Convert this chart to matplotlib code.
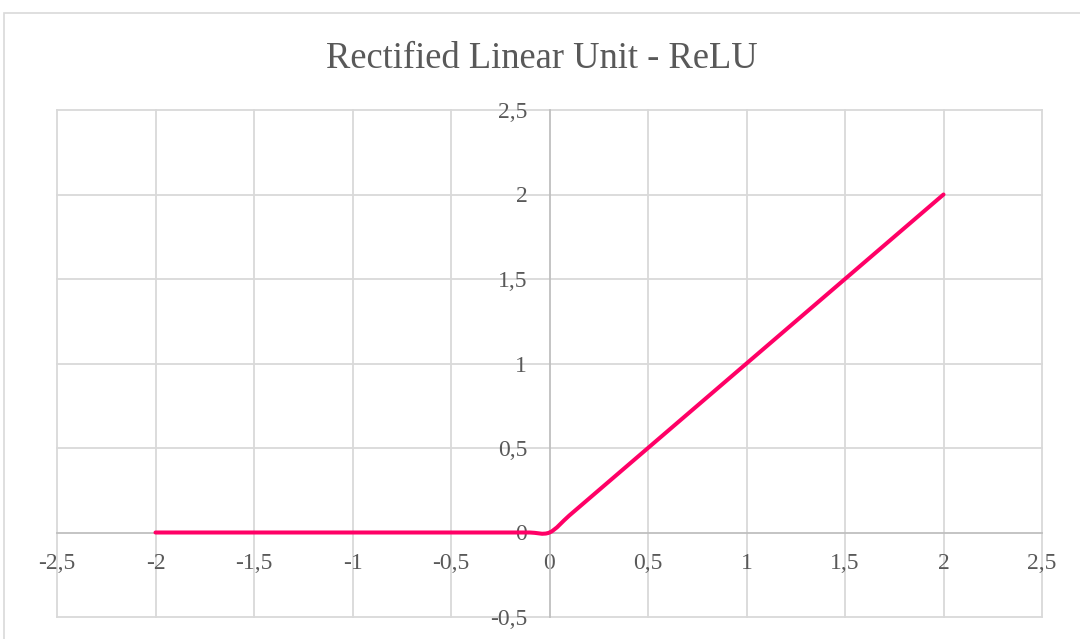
import matplotlib.pyplot as plt
from matplotlib.path import Path
from matplotlib.patches import PathPatch, Rectangle

# Values (Excel scatter with smoothed line).
relu_x = [-2.0, -1.9, -1.8, -1.7, -1.6, -1.5, -1.4, -1.3, -1.2, -1.1,
          -1.0, -0.9, -0.8, -0.7, -0.6, -0.5, -0.4, -0.3, -0.2, -0.1,
          0.0, 0.1, 0.2, 0.3, 0.4, 0.5, 0.6, 0.7, 0.8, 0.9,
          1.0, 1.1, 1.2, 1.3, 1.4, 1.5, 1.6, 1.7, 1.8, 1.9, 2.0]
relu_y = [0.0, 0.0, 0.0, 0.0, 0.0, 0.0, 0.0, 0.0, 0.0, 0.0,
          0.0, 0.0, 0.0, 0.0, 0.0, 0.0, 0.0, 0.0, 0.0, 0.0,
          0.0, 0.1, 0.2, 0.3, 0.4, 0.5, 0.6, 0.7, 0.8, 0.9,
          1.0, 1.1, 1.2, 1.3, 1.4, 1.5, 1.6, 1.7, 1.8, 1.9, 2.0]

x_ticks = [-2.5, -2, -1.5, -1, -0.5, 0, 0.5, 1, 1.5, 2, 2.5]
x_labels = ["-2,5", "-2", "-1,5", "-1", "-0,5", "0", "0,5", "1", "1,5", "2", "2,5"]
y_ticks = [-0.5, 0, 0.5, 1, 1.5, 2, 2.5]
y_labels = ["-0,5", "0", "0,5", "1", "1,5", "2", "2,5"]

TEXT = "#595959"
GRID = "#d9d9d9"
AXIS = "#bfbfbf"
LINE = "#ff0066"


def smooth_path(xs, ys):
    # Excel-like smoothing: cubic bezier, control points from neighbours / 6
    pts = list(zip(xs, ys))
    n = len(pts)
    verts = [pts[0]]
    codes = [Path.MOVETO]
    for i in range(n - 1):
        p0 = pts[i - 1] if i > 0 else pts[i]
        p1 = pts[i]
        p2 = pts[i + 1]
        p3 = pts[i + 2] if i + 2 < n else pts[i + 1]
        c1 = (p1[0] + (p2[0] - p0[0]) / 6, p1[1] + (p2[1] - p0[1]) / 6)
        c2 = (p2[0] - (p3[0] - p1[0]) / 6, p2[1] - (p3[1] - p1[1]) / 6)
        verts += [c1, c2, p2]
        codes += [Path.CURVE4] * 3
    return Path(verts, codes)


plt.rcParams['font.family'] = ['Liberation Serif', 'DejaVu Serif']

fig = plt.figure(figsize=(10.8, 6.39), dpi=100)
W, H = 1080, 639
ax = fig.add_axes([57 / W, (H - 617) / H, (1042 - 57) / W, (617 - 110) / H])

# chart frame (only top and left edges visible in the crop)
fig.patches.append(Rectangle((4 / W, -0.1), 1.2, (H - 13) / H + 0.1,
                             transform=fig.transFigure, fill=False,
                             edgecolor=GRID, linewidth=1.2))

ax.set_xlim(-2.5, 2.5)
ax.set_ylim(-0.5, 2.5)

for x in x_ticks:
    if x != 0:
        ax.axvline(x, color=GRID, linewidth=1.3, clip_on=False, zorder=1)
for y in y_ticks:
    if y != 0:
        ax.axhline(y, color=GRID, linewidth=1.3, clip_on=False, zorder=1)

ax.spines['top'].set_visible(False)
ax.spines['right'].set_visible(False)
ax.spines['bottom'].set_position(('data', 0))
ax.spines['left'].set_position(('data', 0))
for s in ('bottom', 'left'):
    ax.spines[s].set_color(AXIS)
    ax.spines[s].set_linewidth(1.3)
    ax.spines[s].set_zorder(2)

ax.set_xticks(x_ticks)
ax.set_xticklabels(x_labels)
ax.set_yticks(y_ticks)
ax.set_yticklabels(y_labels)
ax.tick_params(axis='x', length=0, pad=15, labelsize=17, labelcolor=TEXT)
ax.tick_params(axis='y', length=0, pad=16, labelsize=17, labelcolor=TEXT)

ax.add_patch(PathPatch(smooth_path(relu_x, relu_y), fill=False,
                       edgecolor=LINE, linewidth=2.9, capstyle='round',
                       joinstyle='round', zorder=3))

fig.text(542 / W, (H - 68) / H, "Rectified Linear Unit - ReLU",
         ha='center', va='baseline', fontsize=26.3, color=TEXT)

fig.savefig("out.png", dpi=100)
